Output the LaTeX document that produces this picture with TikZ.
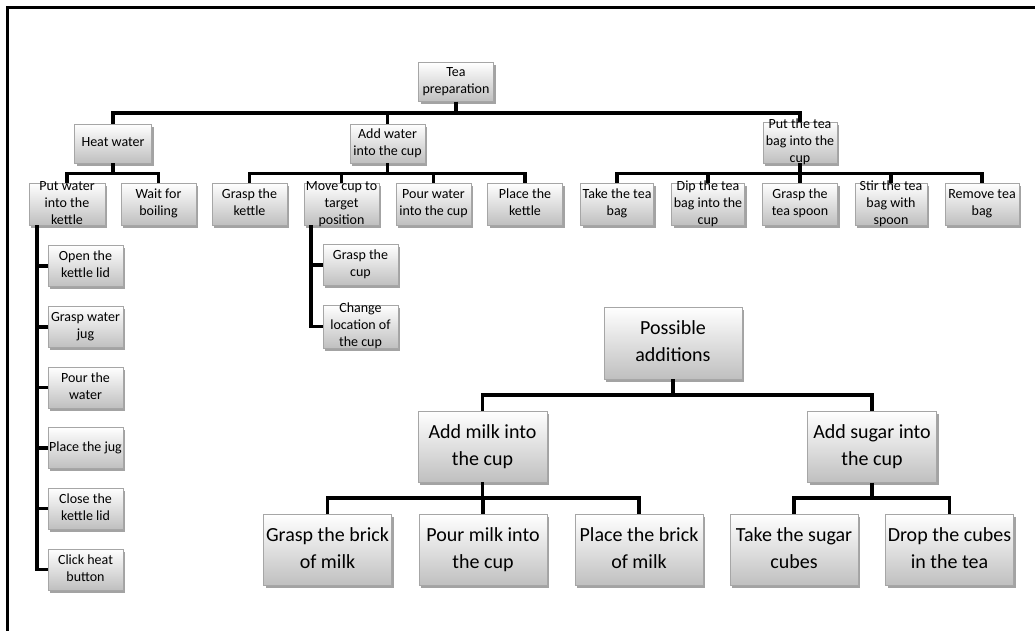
\documentclass[tikz,border=0pt]{standalone}
\usepackage{fontspec}
\setmainfont{Carlito}
\usetikzlibrary{shadows}
\newcommand{\boxtext}[1]{\makebox[0pt]{\vbox to 0pt{\vss\hbox{\begin{tabular}{@{}c@{}}#1\end{tabular}}\vss}}}
\begin{document}
\begin{tikzpicture}[x=1pt,y=-1pt,
  tbox/.style={draw=black!35, line width=0.5pt, top color=white, bottom color=black!25,
    inner sep=0pt, text=black,
    drop shadow={shadow xshift=2pt, shadow yshift=-2.5pt, opacity=0.45, fill=black!80}},
  sbox/.style={tbox, font=\fontsize{14}{17}\selectfont, minimum width=75pt, minimum height=42pt},
  bbox/.style={tbox, font=\fontsize{20}{27}\selectfont, minimum width=129pt, minimum height=71pt},
  conn/.style={line width=3.2pt, black}]
\useasboundingbox (0,0) rectangle (1035,630);
% frame
\draw[line width=3pt] (7,631) -- (7,7) -- (1036,7);
% helper coordinates
\coordinate (b1) at (0,113);
\coordinate (b2) at (0,173.5);
\coordinate (b3) at (0,395);
\coordinate (b4) at (0,498);
\coordinate (vl1) at (37,0);
\coordinate (vl2) at (311,0);
% top tree
\node[sbox, minimum height=39pt] (tea) at (456,82) {\boxtext{Tea\\preparation}};
\node[sbox, minimum width=77pt, minimum height=39pt] (heat) at (113,143.5) {\boxtext{Heat water}};
\node[sbox, minimum height=39pt] (addw) at (387.5,143.5) {\boxtext{Add water\\into the cup}};
\node[sbox, minimum width=74pt, minimum height=41pt] (putbag) at (800,142.5) {\boxtext{Put the tea\\bag into the\\cup}};
% level 2
\node[sbox, minimum width=76pt] (putw) at (67,204) {\boxtext{Put water\\into the\\kettle}};
\node[sbox] (wait) at (158.5,204) {\boxtext{Wait for\\boiling}};
\node[sbox] (grk) at (249.5,204) {\boxtext{Grasp the\\kettle}};
\node[sbox] (move) at (341.5,204) {\boxtext{Move cup to\\target\\position}};
\node[sbox] (pourw) at (433.5,204) {\boxtext{Pour water\\into the cup}};
\node[sbox] (placek) at (525,204) {\boxtext{Place the\\kettle}};
\node[sbox, minimum width=73pt] (takebag) at (617,204) {\boxtext{Take the tea\\bag}};
\node[sbox, minimum width=73pt] (dip) at (708,204) {\boxtext{Dip the tea\\bag into the\\cup}};
\node[sbox] (grspoon) at (800,204) {\boxtext{Grasp the\\tea spoon}};
\node[sbox, minimum width=72pt] (stir) at (891,204) {\boxtext{Stir the tea\\bag with\\spoon}};
\node[sbox, minimum width=74pt] (remove) at (982,204) {\boxtext{Remove tea\\bag}};
% vertical list under put water
\node[sbox, minimum height=41pt] (open) at (85.5,266) {\boxtext{Open the\\kettle lid}};
\node[sbox, minimum height=41pt] (jug) at (85.5,327) {\boxtext{Grasp water\\jug}};
\node[sbox, minimum height=41pt] (pourt) at (85.5,387.5) {\boxtext{Pour the\\water}};
\node[sbox, minimum height=41pt] (placej) at (85.5,448) {\boxtext{Place the jug}};
\node[sbox, minimum height=41pt] (close) at (85.5,508.5) {\boxtext{Close the\\kettle lid}};
\node[sbox, minimum height=41pt] (click) at (85.5,569.5) {\boxtext{Click heat\\button}};
% under move cup
\node[sbox, minimum height=41pt] (grcup) at (360.5,265) {\boxtext{Grasp the\\cup}};
\node[sbox, minimum height=43pt] (change) at (360.5,326.5) {\boxtext{Change\\location of\\the cup}};
% possible additions
\node[bbox, minimum width=138pt, minimum height=72pt] (poss) at (673,343) {\boxtext{Possible\\additions}};
\node[bbox] (milk) at (482.5,446.5) {\boxtext{Add milk into\\the cup}};
\node[bbox] (sugar) at (872,447) {\boxtext{Add sugar into\\the cup}};
\node[bbox, minimum width=128pt] (grbrick) at (327.5,550) {\boxtext{Grasp the brick\\of milk}};
\node[bbox, minimum width=128pt] (pourmilk) at (483,550) {\boxtext{Pour milk into\\the cup}};
\node[bbox, minimum width=128pt] (placebrick) at (639,550) {\boxtext{Place the brick\\of milk}};
\node[bbox, minimum width=128pt] (takesugar) at (794,550) {\boxtext{Take the sugar\\cubes}};
\node[bbox, minimum width=128pt] (drop) at (949.5,550) {\boxtext{Drop the cubes\\in the tea}};
% connectors
\foreach \c in {heat,addw,putbag} \draw[conn] (tea.south) -- (tea.south |- b1) -| (\c.north);
\foreach \c in {putw,wait} \draw[conn] (heat.south) -- (heat.south |- b2) -| (\c.north);
\foreach \c in {grk,move,pourw,placek} \draw[conn] (addw.south) -- (addw.south |- b2) -| (\c.north);
\foreach \c in {takebag,dip,grspoon,stir,remove} \draw[conn] (putbag.south) -- (putbag.south |- b2) -| (\c.north);
\foreach \c in {open,jug,pourt,placej,close,click} \draw[conn] (putw.south -| vl1) |- (\c.west);
\foreach \c in {grcup,change} \draw[conn] (move.south -| vl2) |- (\c.west);
\foreach \c in {milk,sugar} \draw[conn] (poss.south) -- (poss.south |- b3) -| (\c.north);
\foreach \c in {grbrick,pourmilk,placebrick} \draw[conn] (milk.south) -- (milk.south |- b4) -| (\c.north);
\foreach \c in {takesugar,drop} \draw[conn] (sugar.south) -- (sugar.south |- b4) -| (\c.north);
\end{tikzpicture}
\end{document}
